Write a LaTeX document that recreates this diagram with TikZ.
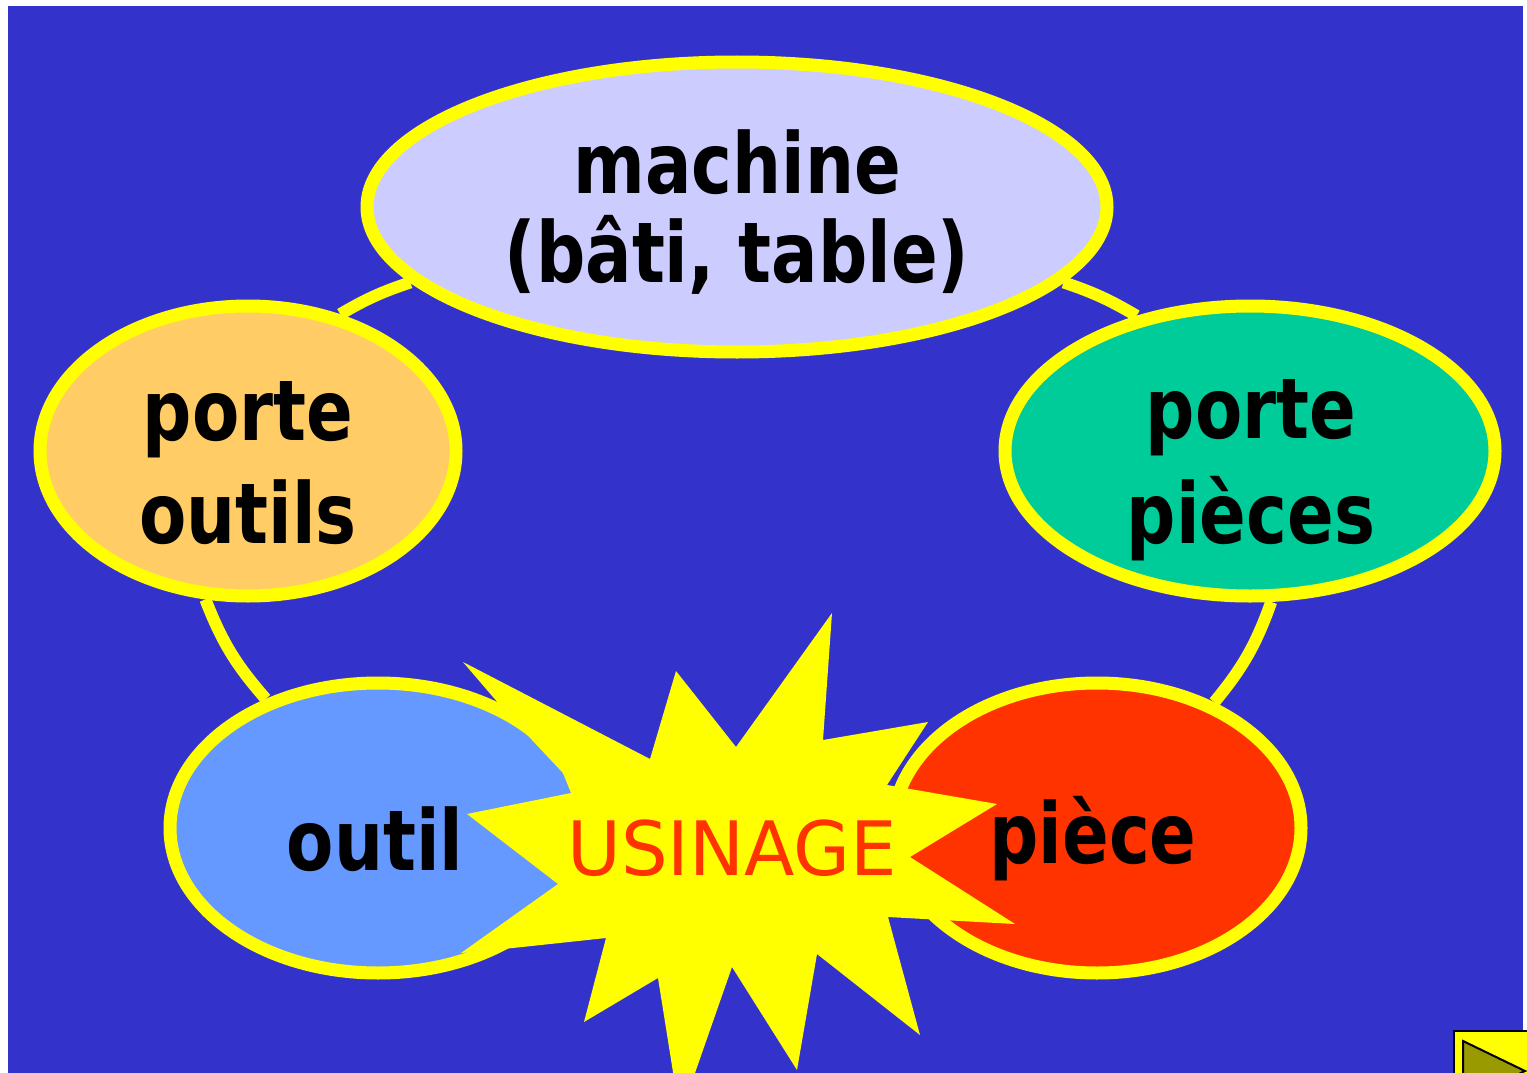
\documentclass[tikz,border=0pt]{standalone}
\usepackage{fontspec}
\usepackage{graphicx}
\setmainfont{DejaVu Sans}
\usetikzlibrary{shapes.geometric}
\pgfdeclarelayer{bg}
\pgfdeclarelayer{links}
\pgfsetlayers{bg,links,main}
\definecolor{bgblue}{HTML}{3333CC}
\definecolor{yy}{HTML}{FFFF00}
\definecolor{cmach}{HTML}{CCCCFF}
\definecolor{cpout}{HTML}{FFCC66}
\definecolor{cppie}{HTML}{00CC99}
\definecolor{coutil}{HTML}{6699FF}
\definecolor{cpiece}{HTML}{FF3300}
\definecolor{olive}{HTML}{999900}
\newcommand\sqz[1]{\scalebox{0.82}[1]{#1}}
\begin{document}
\begin{tikzpicture}[x=1pt,y=-1pt,
  bubble/.style={ellipse, draw=yy, line width=13pt, inner sep=0pt},
  lbl/.style={anchor=base, inner sep=0pt, font=\fontsize{84}{90}\selectfont\bfseries},
  link/.style={draw=yy, line width=12pt}]
\useasboundingbox (0,0) rectangle (1527,1073);
\begin{pgfonlayer}{bg}
\fill[white] (0,0) rectangle (1527,1073);
\fill[bgblue] (8,6) rectangle (1523,1080);
\end{pgfonlayer}
% ellipses
\node[bubble, fill=cmach, minimum width=740pt, minimum height=290pt] (machine) at (737,207) {};
\node[bubble, fill=cpout, minimum width=416pt, minimum height=290pt] (pout) at (248,451) {};
\node[bubble, fill=cppie, minimum width=490pt, minimum height=290pt] (ppie) at (1250,451) {};
\node[bubble, fill=coutil, minimum width=416pt, minimum height=290pt] (outil) at (378,828) {};
\node[bubble, fill=cpiece, minimum width=408pt, minimum height=290pt] (piece) at (1097,828) {};
% connectors
\begin{pgfonlayer}{links}
\draw[link] (machine.193) to[bend right=6] (pout.56);
\draw[link] (machine.347) to[bend left=6] (ppie.130);
\draw[link] (pout.254) to[bend right=10] (outil.131);
\draw[link] (ppie.278) to[bend left=10] (piece.47);
\end{pgfonlayer}
% starburst
\fill[yy] (650,759) -- (676,671) -- (736,747) -- (832,613) -- (823,740) -- (928,722)
  -- (887,785) -- (997,804) -- (910,857) -- (1015,924) -- (888,917) -- (920,1035)
  -- (817,954) -- (797,1070) -- (732,967) -- (680,1116) -- (658,978) -- (584,1022)
  -- (606,938) -- (513,948) -- (461,953) -- (558,884) -- (467,814) -- (571,793)
  -- (563,773) -- (532,740) -- (499,704) -- (463,662) -- cycle;
% texts
\node[lbl] (tmach1) at (737,193) {\sqz{machine}};
\node[lbl] (tmach2) at (737,282) {\sqz{(bâti, table)}};
\node[lbl] (tpout1) at (248,440) {\sqz{porte}};
\node[lbl] (tpout2) at (248,543) {\sqz{outils}};
\node[lbl] (tppie1) at (1251,438) {\sqz{porte}};
\node[lbl] (tppie2) at (1251,543) {\sqz{pièces}};
\node[lbl] (toutil) at (375,870) {\sqz{outil}};
\node[lbl] (tpiece) at (1093,863) {\sqz{pièce}};
\node[anchor=base, inner sep=0pt, text=cpiece, font=\fontsize{75}{80}\selectfont] (tusi) at (732,875) {\scalebox{0.98}[1]{USINAGE}};
% navigation button
\node[draw=black, line width=2pt, fill=yy, minimum size=90pt, anchor=north west, inner sep=0pt] (btn) at (1453,1030) {};
\draw[black, line width=2pt, fill=olive] ([shift={(10pt,-11pt)}]btn.north west) -- ++(0,-60pt) -- ++(62pt,30pt) -- cycle;
\end{tikzpicture}
\end{document}
